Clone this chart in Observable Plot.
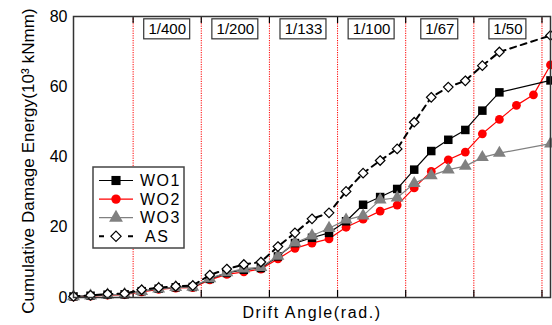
<!DOCTYPE html>
<html><head><meta charset="utf-8">
<script src="https://cdn.jsdelivr.net/npm/d3@7"></script>
<script src="https://cdn.jsdelivr.net/npm/@observablehq/plot@0.6"></script>
<style>
body{margin:0;background:#fff;}
#chart{width:552px;height:325px;}
.xlab text{letter-spacing:1.6px;}
.ylab text{letter-spacing:0.1px;}
</style></head><body><div id="chart"></div>
<script>
// loading steps (x index), 0..28
const steps = d3.range(29);
const wo1 = [0.3,0.5,0.8,0.9,1.8,2.5,2.9,3.0,5.3,7.0,7.9,8.4,11.7,15.5,17.0,18.4,21.7,26.4,28.6,30.9,36.4,41.7,44.9,47.7,53.2,58.4,null,null,61.8];
const wo2 = [0.2,0.4,0.7,0.8,1.6,2.3,2.7,2.8,5.0,6.6,7.3,8.1,11.0,14.0,15.5,16.7,20.0,22.3,24.6,26.3,31.2,35.9,39.2,41.4,46.6,50.7,54.7,57.7,66.2];
const wo3 = [0.3,0.5,0.8,0.9,1.8,2.5,2.9,3.0,5.4,7.1,8.2,8.6,11.8,15.6,17.6,19.7,22.1,23.3,27.8,28.4,32.5,34.7,36.4,37.4,39.9,41.1,null,null,43.8];
const as  = [0.3,0.6,1.0,1.1,2.2,2.8,3.2,3.4,6.4,8.1,9.4,10.1,14.5,18.4,22.4,24.1,30.2,35.4,39.0,42.3,49.9,57.0,59.9,61.7,66.0,69.9,null,null,74.6];
// drift angle boundaries (between steps) and labels
const boundaries = [3.5,7.5,11.5,15.5,19.5,23.5,27.5];
const driftLabels = ["1/400","1/200","1/133","1/100","1/67","1/50"];
const yTicks = [0,20,40,60,80];
const yLabel = "Cumulative Damage Energy(10³ kNmm)";
const xLabel = "Drift Angle(rad.)";

const seriesNames = ["WO1","WO2","WO3","AS"];
const seriesValues = [wo1, wo2, wo3, as];
const style = {
  WO1:{stroke:"#000", fill:"#000", symbol:"square", r:4.8, dash:null, width:1.2},
  WO2:{stroke:"#ff0000", fill:"#ff0000", symbol:"circle", r:4.4, dash:null, width:1.2},
  WO3:{stroke:"#808080", fill:"#808080", symbol:"triangle", r:4.8, dash:null, width:1.2},
  AS:{stroke:"#000", fill:"#fff", symbol:"diamond2", r:4.3, dash:"6,5", width:2}
};
const rows = name => {
  const arr = seriesValues[seriesNames.indexOf(name)];
  return steps.map((s,i)=>({step:s, value:arr[i]})).filter(d=>d.value!=null);
};
const drawOrder = ["WO2","WO1","WO3","AS"];
const seriesMarks = drawOrder.flatMap(n => {
  const st = style[n];
  const d = rows(n);
  return [
    Plot.line(d, {x:"step", y:"value", stroke:st.stroke, strokeWidth:st.width, strokeDasharray:st.dash}),
    Plot.dot(d, {x:"step", y:"value", symbol:()=>st.symbol, r:st.r, fill:st.fill,
      stroke: n==="AS" ? "#000" : "none", strokeWidth:1.2})
  ];
});
const labelData = driftLabels.map((t,i)=>({text:t, x:(boundaries[i]+boundaries[i+1])/2, half:(t.length*9+1)/2/17.05}));
const labelBand = [73.5, 79.2];

const W = 552, H = 325, mL = 73, mR = 2, mT = 16, mB = 28;
const chart = Plot.plot({
  width:W, height:H, marginLeft:mL, marginRight:mR, marginTop:mT, marginBottom:mB,
  x:{domain:[0,28], axis:null},
  y:{domain:[0,80], axis:null},
  style:{fontFamily:"'Liberation Sans', Arial, sans-serif", fontSize:"15px", color:"#000", background:"#fff", overflow:"visible"},
  marks:[
    Plot.ruleX(boundaries, {stroke:"#ff0000", strokeDasharray:"1.2,1.2", strokeWidth:1}),
    Plot.ruleX(boundaries, {y1:0, y2:2, stroke:"#000", strokeWidth:1.2}),
    Plot.ruleX(boundaries, {y1:78, y2:80, stroke:"#000", strokeWidth:1.2}),
    Plot.rect(labelData, {x1:d=>d.x-d.half, x2:d=>d.x+d.half, y1:labelBand[0], y2:labelBand[1], fill:"#fff", stroke:"#333", strokeWidth:1.2}),
    Plot.text(labelData, {x:"x", y:(labelBand[0]+labelBand[1])/2, text:"text", fontSize:15}),
    ...seriesMarks,
    Plot.frame({stroke:"#333", strokeWidth:1.5}),
    Plot.axisY({ticks:yTicks, tickSize:0, tickPadding:6, label:null, fontSize:16}),
    Plot.text([yLabel], {frameAnchor:"left", textAnchor:"middle", rotate:-90, dx:-45, dy:4, fontSize:17, className:"ylab"}),
    Plot.text([xLabel], {frameAnchor:"bottom", textAnchor:"middle", dy:20, fontSize:16, className:"xlab"})
  ]
});
document.getElementById("chart").appendChild(chart);

// legend inside the plot area
const svg = d3.select(chart);
const lg = svg.append("g").attr("transform", `translate(${mL+20},${mT+151})`)
  .attr("font-family","'Liberation Sans', Arial, sans-serif").attr("text-anchor","start");
lg.append("rect").attr("x",0).attr("y",0).attr("width",91).attr("height",81).attr("fill","#fff").attr("stroke","#444").attr("stroke-width",1.5);
const symMap = {square:d3.symbolSquare, circle:d3.symbolCircle, triangle:d3.symbolTriangle, diamond2:d3.symbolDiamond2};
seriesNames.forEach((n,i)=>{
  const st = style[n];
  const y = 13.5 + i*18.6;
  const g = lg.append("g").attr("transform",`translate(0,${y})`);
  g.append("line").attr("x1",6).attr("x2",40).attr("y1",0).attr("y2",0)
    .attr("stroke",st.stroke).attr("stroke-width",st.width)
    .attr("stroke-dasharray", n==="AS" ? "5,24" : null);
  g.append("path").attr("transform","translate(23,0)")
    .attr("d", d3.symbol(symMap[st.symbol], Math.PI*st.r*st.r*1.15)())
    .attr("fill", st.fill).attr("stroke", n==="AS" ? "#000" : "none").attr("stroke-width",1.2);
  g.append("text").attr("x", n==="AS" ? 52 : 47).attr("y",0).attr("dy","0.36em")
    .attr("text-anchor","start").attr("font-size",16).attr("letter-spacing","1.5px").text(n);
});
</script></body></html>
